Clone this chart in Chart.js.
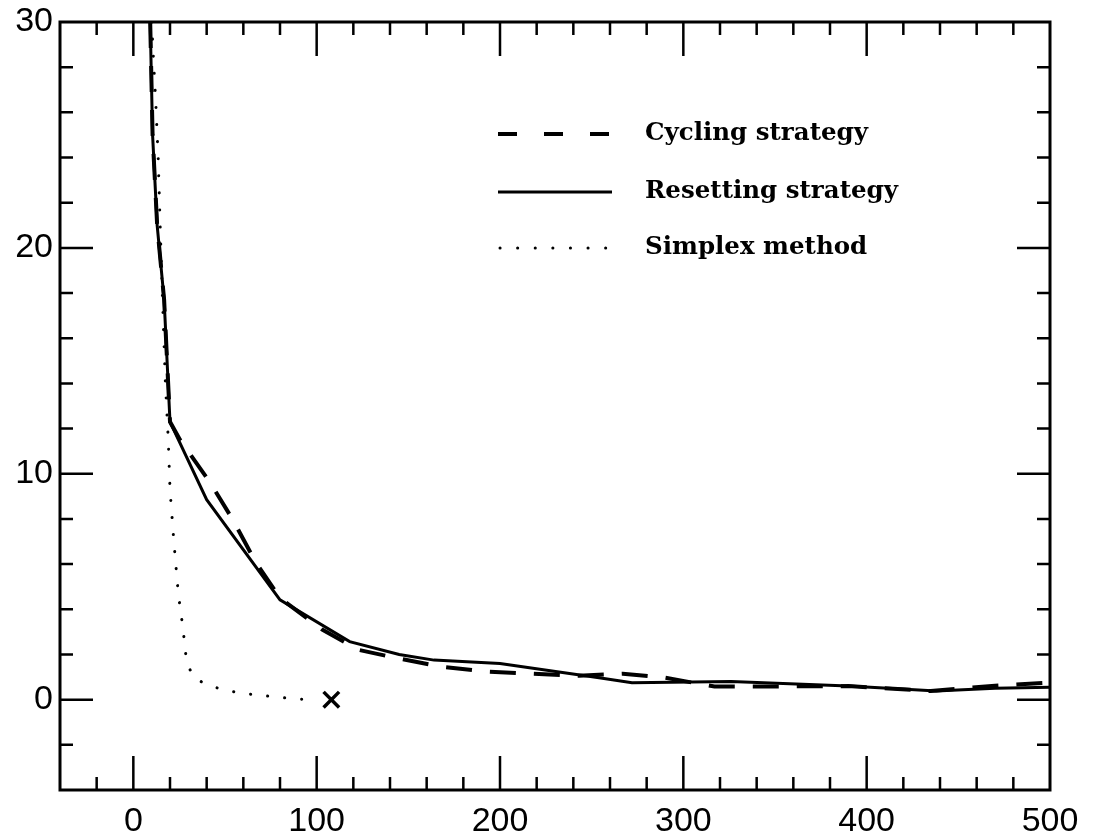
<!DOCTYPE html>
<html>
<head>
<meta charset="utf-8">
<script src="https://cdn.jsdelivr.net/npm/chart.js@4.4.0/dist/chart.umd.min.js"></script>
<style>
html,body{margin:0;padding:0;background:#fff;}
</style>
</head>
<body>
<canvas id="chart" width="1096" height="837"></canvas>
<script>
// series
const cyclingX = [9.2, 10.5, 13, 16.8, 20, 25.5, 42, 54, 67, 80, 103, 123, 143, 168, 193, 217, 243, 267, 290, 317, 339, 390, 435, 470, 500];
const cyclingY = [30, 25, 21, 17.7, 12.3, 11.5, 9.6, 8.0, 6.05, 4.5, 3.1, 2.2, 1.85, 1.46, 1.24, 1.15, 1.06, 1.15, 0.97, 0.58, 0.58, 0.6, 0.38, 0.62, 0.75];

const resetX = [9.2, 10.5, 13, 16.8, 20, 40, 80, 118, 145, 164, 200, 254, 272, 326, 390, 438, 470, 500];
const resetY = [30, 25, 21, 17.7, 12.3, 8.85, 4.42, 2.57, 2.0, 1.75, 1.6, 0.97, 0.75, 0.8, 0.6, 0.38, 0.5, 0.55];

const simplexX = [10, 11, 12.2, 13.6, 14.7, 16, 17.5, 19, 20, 22, 24.5, 27, 29, 32.6, 40, 49, 58, 68, 77, 86, 95];
const simplexY = [30, 28.3, 26.5, 23.9, 20.8, 17.5, 14, 11.6, 9.3, 7.1, 4.7, 3.2, 1.7, 1.0, 0.66, 0.44, 0.3, 0.2, 0.13, 0.05, 0];

const endX = [108];
const endY = [0];

const labels = ['Cycling strategy', 'Resetting strategy', 'Simplex method'];
const xTicks = [0, 100, 200, 300, 400, 500];
const yTicks = [0, 10, 20, 30];

function pts(xs, ys) {
  return xs.map((v, i) => ({x: v, y: ys[i]}));
}

// frame with inward ticks on all four sides, and the legend box
const frameTicks = {
  id: 'frameTicks',
  afterDatasetsDraw(chart) {
    const ctx = chart.ctx;
    const a = chart.chartArea;
    const x = chart.scales.x;
    const y = chart.scales.y;
    ctx.save();
    ctx.strokeStyle = '#000';
    ctx.lineCap = 'butt';
    ctx.lineWidth = 2.5;
    ctx.beginPath();
    for (let v = -20; v < 500; v += 20) {
      const px = x.getPixelForValue(v);
      const len = v % 100 === 0 ? 34 : 13;
      ctx.moveTo(px, a.bottom); ctx.lineTo(px, a.bottom - len);
      ctx.moveTo(px, a.top); ctx.lineTo(px, a.top + len);
    }
    for (let v = -2; v < 30; v += 2) {
      const py = y.getPixelForValue(v);
      const len = v % 10 === 0 ? 33 : 13;
      ctx.moveTo(a.left, py); ctx.lineTo(a.left + len, py);
      ctx.moveTo(a.right, py); ctx.lineTo(a.right - len, py);
    }
    ctx.stroke();
    ctx.lineWidth = 3;
    ctx.strokeRect(a.left, a.top, a.right - a.left, a.bottom - a.top);

    // legend
    const rows = [134, 192, 248];
    const dashes = [[19, 27], [], [0.1, 17.5]];
    chart.data.datasets.slice(0, 3).forEach((ds, i) => {
      ctx.beginPath();
      ctx.lineWidth = ds.borderWidth;
      ctx.lineCap = ds.borderCapStyle || 'butt';
      ctx.setLineDash(dashes[i]);
      ctx.moveTo(i == 2 ? 500 : 498, rows[i]);
      ctx.lineTo(i == 0 ? 610 : 612, rows[i]);
      ctx.stroke();
      ctx.setLineDash([]);
      ctx.fillStyle = '#000';
      ctx.font = 'bold 24.5px "DejaVu Serif"';
      ctx.textBaseline = 'middle';
      ctx.fillText(ds.label, 645, rows[i]);
    });
    ctx.restore();
  }
};

const ctx = document.getElementById('chart').getContext('2d');
const myChart = new Chart(ctx, {
  type: 'scatter',
  data: {
    datasets: [{
      label: labels[0],
      data: pts(cyclingX, cyclingY),
      showLine: true,
      borderColor: '#000',
      borderWidth: 4,
      borderDash: [26, 18],
      pointRadius: 0
    }, {
      label: labels[1],
      data: pts(resetX, resetY),
      showLine: true,
      borderColor: '#000',
      borderWidth: 3,
      pointRadius: 0
    }, {
      label: labels[2],
      data: pts(simplexX, simplexY),
      showLine: true,
      borderColor: '#000',
      borderWidth: 3,
      borderDash: [0.1, 17],
      borderCapStyle: 'round',
      pointRadius: 0
    }, {
      label: 'end',
      data: pts(endX, endY),
      pointStyle: 'crossRot',
      pointRadius: 11,
      borderColor: '#000',
      backgroundColor: '#000',
      pointBorderWidth: 3.5
    }]
  },
  options: {
    responsive: false,
    animation: false,
    layout: {padding: {top: 22, right: 46, left: 0, bottom: 0}},
    plugins: {legend: {display: false}, tooltip: {enabled: false}},
    scales: {
      x: {
        type: 'linear',
        min: -40,
        max: 500,
        afterBuildTicks: s => { s.ticks = xTicks.map(v => ({value: v})); },
        afterFit: s => { s.height = 47; s.paddingLeft = 0; s.paddingRight = 0; },
        grid: {display: false, drawTicks: false},
        border: {display: false},
        ticks: {color: '#000', padding: 11, maxRotation: 0, autoSkip: false,
                font: {family: 'Liberation Sans', size: 34}}
      },
      y: {
        type: 'linear',
        min: -4,
        max: 30,
        afterBuildTicks: s => { s.ticks = yTicks.map(v => ({value: v})); },
        afterFit: s => { s.width = 60; s.paddingTop = 0; s.paddingBottom = 0; },
        grid: {display: false, drawTicks: false},
        border: {display: false},
        ticks: {color: '#000', padding: 7, font: {family: 'Liberation Sans', size: 34}}
      }
    }
  },
  plugins: [frameTicks]
});
</script>
</body>
</html>
